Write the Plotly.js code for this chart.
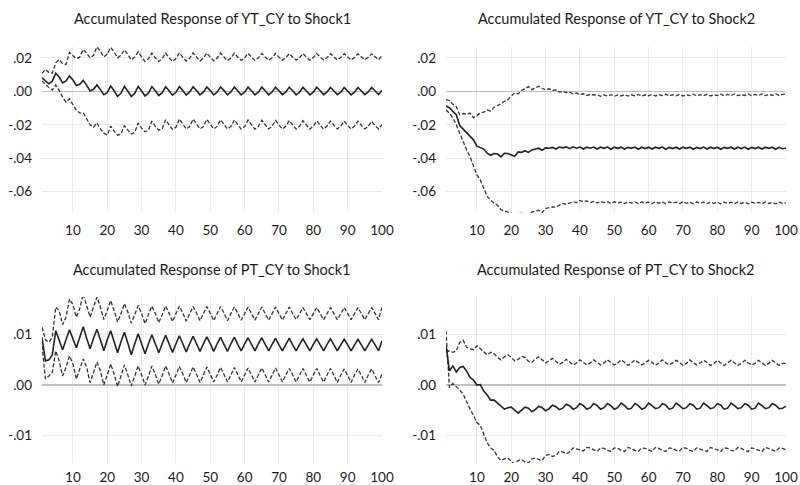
<!DOCTYPE html>
<html>
<head>
<meta charset="utf-8">
<script src="https://cdn.plot.ly/plotly-3.0.1.min.js"></script>
<style>
  html, body { margin: 0; padding: 0; background: #ffffff; }
  #chart { width: 800px; height: 485px; }
</style>
</head>
<body>
<div id="chart"></div>
<script>
// Horizon (periods 1..100)
const periods = Array.from({length: 100}, (_, i) => i + 1);

// Accumulated response of YT_CY to Shock1: estimate and +/- 2 S.E. bands
const ytShock1Mid = [
  .0080,.0065,.0045,.0060, .0108,.0085,.0050,.0062, .0092,.0068,.0035,.0042, .0065,.0035,.0002,.0012,
  .0038,.0010,-.0020,-.0008, .0032,.0003,-.0030,-.0012, .0030,.0000,-.0031,-.0012, .0029,.0002,-.0028,-.0010,
  .0028,.0003,-.0025,-.0008, .0027,.0003,-.0023,-.0006, .0028,.0004,-.0022,-.0004, .0027,.0004,-.0021,-.0004,
  .0026,.0004,-.0021,-.0005, .0026,.0004,-.0021,-.0004, .0025,.0003,-.0022,-.0005, .0025,.0003,-.0021,-.0005,
  .0025,.0003,-.0021,-.0004, .0024,.0003,-.0020,-.0004, .0024,.0003,-.0021,-.0005, .0024,.0002,-.0021,-.0005,
  .0024,.0003,-.0020,-.0004, .0023,.0002,-.0020,-.0005, .0023,.0002,-.0021,-.0005, .0023,.0002,-.0020,-.0004,
  .0023,.0002,-.0020,.0006
];
const ytShock1Upper = [
  .0107,.0130,.0112,.0108, .0170,.0188,.0165,.0160, .0232,.0215,.0195,.0205, .0250,.0228,.0200,.0215,
  .0265,.0240,.0205,.0222, .0262,.0235,.0200,.0215, .0248,.0220,.0188,.0205, .0235,.0205,.0178,.0195,
  .0228,.0200,.0178,.0195, .0228,.0200,.0178,.0196, .0229,.0203,.0180,.0198, .0229,.0204,.0181,.0198,
  .0228,.0204,.0182,.0199, .0228,.0205,.0183,.0199, .0227,.0205,.0184,.0200, .0227,.0204,.0184,.0200,
  .0226,.0205,.0185,.0200, .0226,.0204,.0185,.0201, .0225,.0205,.0186,.0201, .0225,.0204,.0186,.0201,
  .0225,.0205,.0187,.0202, .0224,.0205,.0187,.0202, .0224,.0205,.0187,.0202, .0224,.0206,.0188,.0203,
  .0224,.0206,.0188,.0214
];
const ytShock1Lower = [
  .0062,.0040,.0022,.0008, .0038,.0005,-.0035,-.0065, -.0045,-.0080,-.0112,-.0130, -.0128,-.0165,-.0200,-.0215,
  -.0188,-.0225,-.0250,-.0262, -.0208,-.0238,-.0262,-.0255, -.0205,-.0232,-.0255,-.0245, -.0190,-.0220,-.0242,-.0232,
  -.0178,-.0210,-.0232,-.0222, -.0170,-.0200,-.0228,-.0215, -.0165,-.0195,-.0225,-.0212, -.0166,-.0196,-.0225,-.0211,
  -.0168,-.0197,-.0225,-.0210, -.0170,-.0198,-.0225,-.0210, -.0171,-.0199,-.0226,-.0210, -.0172,-.0200,-.0226,-.0209,
  -.0173,-.0200,-.0225,-.0209, -.0174,-.0201,-.0225,-.0209, -.0175,-.0201,-.0226,-.0209, -.0176,-.0202,-.0226,-.0208,
  -.0177,-.0203,-.0226,-.0208, -.0178,-.0203,-.0225,-.0208, -.0178,-.0204,-.0225,-.0208, -.0179,-.0204,-.0225,-.0208,
  -.0180,-.0205,-.0225,-.0200
];

// Accumulated response of YT_CY to Shock2
const ytShock2Mid = [
  -.0088,-.0098,-.0120,-.0140, -.0205,-.0225,-.0248,-.0270, -.0290,-.0328,-.0335,-.0345, -.0370,-.0382,-.0372,-.0375,
  -.0392,-.0370,-.0372,-.0378, -.0388,-.0362,-.0365,-.0355, -.0365,-.0350,-.0345,-.0340, -.0352,-.0338,-.0340,-.0335,
  -.0345,-.0333,-.0338,-.0332, -.0343,-.0332,-.0340,-.0333, -.0345,-.0334,-.0340,-.0333, -.0345,-.0334,-.0341,-.0333,
  -.0346,-.0334,-.0341,-.0334, -.0345,-.0335,-.0341,-.0333, -.0346,-.0334,-.0342,-.0334, -.0345,-.0334,-.0341,-.0333,
  -.0346,-.0335,-.0342,-.0334, -.0345,-.0334,-.0341,-.0334, -.0346,-.0335,-.0342,-.0333, -.0345,-.0334,-.0342,-.0334,
  -.0346,-.0335,-.0341,-.0334, -.0345,-.0334,-.0342,-.0333, -.0346,-.0335,-.0342,-.0334, -.0345,-.0334,-.0341,-.0334,
  -.0346,-.0335,-.0343,-.0340
];
const ytShock2Upper = [
  -.0050,-.0055,-.0078,-.0092, -.0140,-.0133,-.0138,-.0130, -.0158,-.0145,-.0130,-.0125, -.0112,-.0118,-.0095,-.0085,
  -.0075,-.0060,-.0050,-.0030, -.0010,-.0015,.0005,.0015, .0028,.0010,.0022,.0030, .0018,.0008,.0015,.0005,
  .0008,-.0005,.0000,-.0008, -.0005,-.0015,-.0010,-.0020, -.0015,-.0025,-.0018,-.0022, -.0020,-.0030,-.0022,-.0028,
  -.0020,-.0030,-.0022,-.0028, -.0019,-.0029,-.0021,-.0027, -.0019,-.0029,-.0021,-.0027, -.0018,-.0028,-.0020,-.0026,
  -.0018,-.0028,-.0020,-.0027, -.0018,-.0028,-.0021,-.0026, -.0017,-.0027,-.0020,-.0026, -.0017,-.0028,-.0020,-.0026,
  -.0017,-.0027,-.0019,-.0026, -.0016,-.0026,-.0019,-.0025, -.0016,-.0027,-.0019,-.0025, -.0016,-.0026,-.0018,-.0025,
  -.0015,-.0025,-.0018,-.0017
];
const ytShock2Lower = [
  -.0112,-.0130,-.0160,-.0200, -.0250,-.0305,-.0350,-.0390, -.0450,-.0500,-.0530,-.0575, -.0628,-.0650,-.0668,-.0680,
  -.0708,-.0715,-.0720,-.0728, -.0745,-.0730,-.0728,-.0735, -.0745,-.0722,-.0715,-.0710, -.0725,-.0700,-.0695,-.0690,
  -.0692,-.0680,-.0670,-.0675, -.0665,-.0660,-.0665,-.0652, -.0660,-.0655,-.0665,-.0658, -.0668,-.0658,-.0665,-.0660,
  -.0670,-.0660,-.0668,-.0662, -.0670,-.0660,-.0668,-.0661, -.0671,-.0661,-.0668,-.0662, -.0670,-.0660,-.0669,-.0662,
  -.0671,-.0661,-.0668,-.0662, -.0671,-.0660,-.0669,-.0663, -.0672,-.0661,-.0669,-.0662, -.0671,-.0661,-.0669,-.0663,
  -.0672,-.0662,-.0669,-.0663, -.0671,-.0661,-.0670,-.0663, -.0672,-.0662,-.0669,-.0664, -.0672,-.0661,-.0670,-.0663,
  -.0672,-.0662,-.0670,-.0666
];

// Accumulated response of PT_CY to Shock1
const ptShock1Mid = [
  .0095,.0048,.0050,.0060, .0108,.0090,.0070,.0090, .0110,.0092,.0074,.0095, .0116,.0093,.0072,.0093,
  .0111,.0090,.0068,.0090, .0108,.0086,.0064,.0086, .0105,.0083,.0060,.0082, .0102,.0082,.0062,.0082,
  .0100,.0082,.0064,.0082, .0099,.0082,.0065,.0082, .0098,.0082,.0066,.0082, .0097,.0082,.0067,.0082,
  .0096,.0082,.0067,.0082, .0095,.0081,.0067,.0082, .0095,.0081,.0068,.0082, .0094,.0081,.0068,.0082,
  .0094,.0081,.0068,.0081, .0093,.0080,.0068,.0081, .0093,.0080,.0068,.0081, .0092,.0080,.0068,.0081,
  .0092,.0080,.0068,.0081, .0092,.0080,.0068,.0080, .0091,.0080,.0068,.0080, .0091,.0080,.0068,.0080,
  .0091,.0080,.0068,.0088
];
const ptShock1Upper = [
  .0115,.0090,.0085,.0095, .0155,.0148,.0120,.0135, .0171,.0160,.0135,.0152, .0181,.0160,.0135,.0155,
  .0175,.0155,.0130,.0148, .0168,.0148,.0125,.0142, .0162,.0145,.0123,.0140, .0158,.0142,.0122,.0140,
  .0157,.0142,.0124,.0140, .0157,.0143,.0126,.0142, .0157,.0143,.0127,.0142, .0156,.0143,.0128,.0142,
  .0156,.0143,.0128,.0142, .0156,.0143,.0128,.0142, .0155,.0143,.0129,.0142, .0155,.0142,.0129,.0142,
  .0155,.0142,.0129,.0142, .0155,.0142,.0129,.0142, .0155,.0142,.0130,.0142, .0154,.0142,.0130,.0142,
  .0154,.0142,.0130,.0142, .0154,.0142,.0130,.0142, .0154,.0142,.0130,.0142, .0154,.0142,.0130,.0142,
  .0154,.0142,.0130,.0155
];
const ptShock1Lower = [
  .0078,.0012,.0018,.0025, .0068,.0048,.0018,.0035, .0058,.0042,.0012,.0030, .0052,.0035,.0005,.0025,
  .0046,.0028,.0000,.0020, .0042,.0022,-.0003,.0018, .0040,.0020,-.0002,.0018, .0038,.0020,.0000,.0018,
  .0038,.0021,.0002,.0019, .0038,.0022,.0004,.0020, .0037,.0022,.0005,.0020, .0036,.0021,.0005,.0020,
  .0036,.0021,.0006,.0020, .0035,.0021,.0006,.0020, .0035,.0021,.0006,.0020, .0034,.0020,.0006,.0020,
  .0034,.0020,.0006,.0020, .0034,.0020,.0006,.0020, .0033,.0020,.0006,.0020, .0033,.0019,.0006,.0020,
  .0033,.0019,.0006,.0020, .0033,.0019,.0005,.0020, .0032,.0019,.0005,.0020, .0032,.0019,.0005,.0020,
  .0032,.0018,.0005,.0022
];

// Accumulated response of PT_CY to Shock2
const ptShock2Mid = [
  .0078,.0028,.0038,.0026, .0035,.0037,.0028,.0015, .0010,.0000,.0001,-.0012, -.0020,-.0030,-.0030,-.0036,
  -.0042,-.0048,-.0045,-.0044, -.0050,-.0056,-.0050,-.0044, -.0046,-.0053,-.0049,-.0042, -.0045,-.0051,-.0047,-.0040,
  -.0043,-.0049,-.0046,-.0038, -.0041,-.0048,-.0045,-.0037, -.0041,-.0048,-.0045,-.0037, -.0041,-.0048,-.0045,-.0037,
  -.0041,-.0048,-.0045,-.0036, -.0041,-.0048,-.0046,-.0037, -.0041,-.0048,-.0045,-.0036, -.0041,-.0047,-.0045,-.0037,
  -.0040,-.0048,-.0046,-.0036, -.0041,-.0047,-.0045,-.0037, -.0040,-.0048,-.0046,-.0036, -.0041,-.0047,-.0045,-.0037,
  -.0040,-.0048,-.0046,-.0036, -.0041,-.0047,-.0045,-.0037, -.0040,-.0048,-.0046,-.0036, -.0041,-.0047,-.0045,-.0037,
  -.0040,-.0047,-.0046,-.0042
];
const ptShock2Upper = [
  .0065,.0068,.0065,.0068, .0085,.0089,.0075,.0072, .0070,.0078,.0072,.0065, .0060,.0065,.0062,.0055,
  .0050,.0056,.0060,.0055, .0048,.0051,.0057,.0055, .0047,.0045,.0052,.0056, .0049,.0044,.0048,.0053,
  .0047,.0041,.0045,.0051, .0046,.0040,.0044,.0050, .0045,.0040,.0044,.0050, .0045,.0040,.0044,.0050,
  .0045,.0040,.0044,.0050, .0045,.0039,.0044,.0050, .0045,.0040,.0044,.0049, .0045,.0039,.0044,.0050,
  .0044,.0040,.0044,.0049, .0045,.0039,.0043,.0050, .0044,.0040,.0044,.0049, .0045,.0039,.0043,.0049,
  .0044,.0039,.0044,.0049, .0044,.0039,.0043,.0049, .0044,.0040,.0043,.0049, .0044,.0039,.0043,.0049,
  .0044,.0039,.0043,.0043
];
const ptShock2Lower = [
  .0108,-.0005,.0003,-.0003, -.0010,-.0018,-.0035,-.0048, -.0060,-.0075,-.0080,-.0098, -.0115,-.0125,-.0130,-.0143,
  -.0150,-.0147,-.0145,-.0152, -.0157,-.0150,-.0148,-.0153, -.0155,-.0147,-.0145,-.0148, -.0150,-.0140,-.0138,-.0142,
  -.0140,-.0132,-.0133,-.0137, -.0133,-.0125,-.0127,-.0130, -.0131,-.0124,-.0125,-.0129, -.0132,-.0125,-.0126,-.0130,
  -.0132,-.0125,-.0126,-.0130, -.0132,-.0124,-.0126,-.0130, -.0132,-.0125,-.0126,-.0129, -.0132,-.0124,-.0126,-.0130,
  -.0132,-.0125,-.0126,-.0130, -.0131,-.0124,-.0126,-.0130, -.0132,-.0125,-.0127,-.0130, -.0132,-.0124,-.0126,-.0129,
  -.0132,-.0125,-.0126,-.0130, -.0131,-.0124,-.0126,-.0130, -.0132,-.0125,-.0127,-.0130, -.0132,-.0124,-.0126,-.0129,
  -.0132,-.0125,-.0126,-.0129
];

// Panel titles and tick labels
const panelTitles = [
  "Accumulated Response of YT_CY to Shock1",
  "Accumulated Response of YT_CY to Shock2",
  "Accumulated Response of PT_CY to Shock1",
  "Accumulated Response of PT_CY to Shock2"
];
const xTickVals = [10, 20, 30, 40, 50, 60, 70, 80, 90, 100];
const xTickText = ["10", "20", "30", "40", "50", "60", "70", "80", "90", "100"];
const ytTickVals = [0.02, 0, -0.02, -0.04, -0.06];
const ytTickText = [".02", ".00", "-.02", "-.04", "-.06"];
const ptTickVals = [0.01, 0, -0.01];
const ptTickText = [".01", ".00", "-.01"];

const FONT = "Lato, 'Open Sans', sans-serif";
const panels = [
  {mid: ytShock1Mid, up: ytShock1Upper, lo: ytShock1Lower, xa: "x",  ya: "y"},
  {mid: ytShock2Mid, up: ytShock2Upper, lo: ytShock2Lower, xa: "x2", ya: "y2"},
  {mid: ptShock1Mid, up: ptShock1Upper, lo: ptShock1Lower, xa: "x3", ya: "y3"},
  {mid: ptShock2Mid, up: ptShock2Upper, lo: ptShock2Lower, xa: "x4", ya: "y4"}
];

const traces = [];
panels.forEach(p => {
  const dashed = {color: "#333333", width: 1.3, dash: "4px,2px"};
  traces.push({x: periods, y: p.up, xaxis: p.xa, yaxis: p.ya, mode: "lines", line: dashed, hoverinfo: "skip"});
  traces.push({x: periods, y: p.lo, xaxis: p.xa, yaxis: p.ya, mode: "lines", line: dashed, hoverinfo: "skip"});
  traces.push({x: periods, y: p.mid, xaxis: p.xa, yaxis: p.ya, mode: "lines",
               line: {color: "#222222", width: 1.6}, hoverinfo: "skip"});
});

const W = 800, H = 485;
const colDomains = [[42 / W, 382 / W], [446 / W, 786 / W]];
const rowDomains = [[(H - 213) / H, (H - 47) / H], [(H - 463) / H, (H - 297) / H]];

function xAxis(col, anchor, standoff) {
  return {
    domain: colDomains[col], anchor: anchor, range: [1, 100],
    tickvals: xTickVals, ticktext: xTickText,
    showgrid: true, gridcolor: "#ebebeb", gridwidth: 1,
    zeroline: false, showline: false, ticks: "",
    ticklabelstandoff: standoff,
    tickfont: {family: FONT, size: 13.5, color: "#1a1a1a"}
  };
}
function yAxis(row, anchor, range, vals, text) {
  return {
    domain: rowDomains[row], anchor: anchor, range: range,
    tickvals: vals, ticktext: text,
    showgrid: true, gridcolor: "#ebebeb", gridwidth: 1,
    zeroline: true, zerolinecolor: "#c0c0c0", zerolinewidth: 1.2,
    showline: false, ticks: "",
    ticklabelstandoff: 9,
    tickfont: {family: FONT, size: 13.5, color: "#1a1a1a"}
  };
}

const ytRange = [-0.0727, 0.02645];
const ptRange = [-0.0155, 0.0175];

const titleY = [1 - 19 / H, 1 - 269 / H];
const annotations = panelTitles.map((t, i) => ({
  text: t, xref: "paper", yref: "paper",
  x: (colDomains[i % 2][0] + colDomains[i % 2][1]) / 2,
  y: titleY[Math.floor(i / 2)],
  xanchor: "center", yanchor: "middle", showarrow: false,
  font: {family: FONT, size: 14.5, color: "#1a1a1a"}
}));

const layout = {
  width: W, height: H,
  margin: {l: 0, r: 0, t: 0, b: 0},
  paper_bgcolor: "#ffffff", plot_bgcolor: "#ffffff",
  showlegend: false,
  xaxis: xAxis(0, "y", 7), yaxis: yAxis(0, "x", ytRange, ytTickVals, ytTickText),
  xaxis2: xAxis(1, "y2", 7), yaxis2: yAxis(0, "x2", ytRange, ytTickVals, ytTickText),
  xaxis3: xAxis(0, "y3", 4), yaxis3: yAxis(1, "x3", ptRange, ptTickVals, ptTickText),
  xaxis4: xAxis(1, "y4", 4), yaxis4: yAxis(1, "x4", ptRange, ptTickVals, ptTickText),
  annotations: annotations
};

Plotly.newPlot("chart", traces, layout, {staticPlot: true, displayModeBar: false});
</script>
</body>
</html>
